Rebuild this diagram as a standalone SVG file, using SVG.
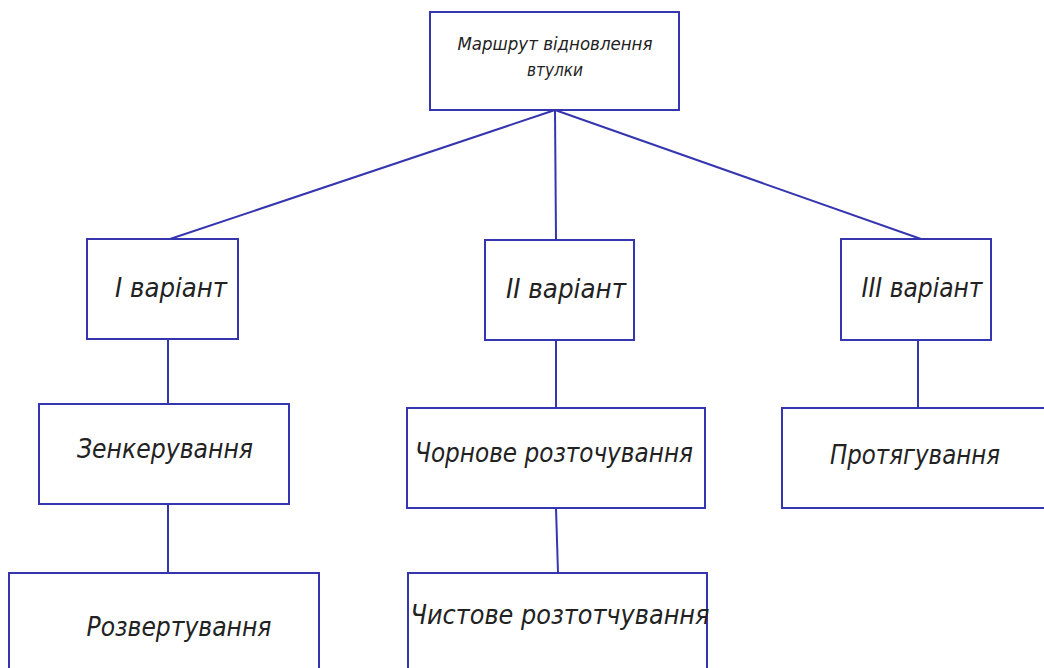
<svg xmlns="http://www.w3.org/2000/svg" width="1044" height="668" viewBox="0 0 1044 668">
<style>
.box{fill:#fff;stroke:#3535b0;stroke-width:2}
.ln{stroke:#3535b0;stroke-width:2;fill:none}
.t{font-family:"DejaVu Sans Condensed","Liberation Sans Narrow","Liberation Sans",sans-serif;font-style:italic;fill:#222;text-anchor:middle;font-size:26px}
.s{font-size:18px}
</style>
<rect width="1044" height="668" fill="#fff"/>
<g id="connectors">
<line class="ln" x1="555" y1="110" x2="170" y2="239"/>
<line class="ln" x1="555" y1="110" x2="556" y2="240"/>
<line class="ln" x1="555" y1="110" x2="921" y2="239"/>
<line class="ln" x1="168" y1="339" x2="168" y2="404"/>
<line class="ln" x1="168" y1="504" x2="168" y2="573"/>
<line class="ln" x1="556" y1="340" x2="556" y2="408"/>
<line class="ln" x1="556" y1="508" x2="558" y2="573"/>
<line class="ln" x1="918" y1="340" x2="918" y2="408"/>
</g>
<g id="root"><rect class="box" x="430" y="12" width="249" height="98"/>
<text class="t s" x="555" y="50" textLength="195" lengthAdjust="spacingAndGlyphs">Маршрут відновлення</text>
<text class="t s" x="555" y="76" textLength="56" lengthAdjust="spacingAndGlyphs">втулки</text></g>
<g id="v1"><rect class="box" x="87" y="239" width="151" height="100"/>
<text class="t" x="171" y="297" textLength="112" lengthAdjust="spacingAndGlyphs">I варіант</text></g>
<g id="v2"><rect class="box" x="485" y="240" width="149" height="100"/>
<text class="t" x="566" y="298" textLength="120" lengthAdjust="spacingAndGlyphs">II варіант</text></g>
<g id="v3"><rect class="box" x="841" y="239" width="150" height="101"/>
<text class="t" x="922" y="297" textLength="121" lengthAdjust="spacingAndGlyphs">III варіант</text></g>
<g id="zenk"><rect class="box" x="39" y="404" width="250" height="100"/>
<text class="t" x="165" y="458" textLength="176" lengthAdjust="spacingAndGlyphs">Зенкерування</text></g>
<g id="rozv"><rect class="box" x="9" y="573" width="310" height="110"/>
<text class="t" x="179" y="636" textLength="185" lengthAdjust="spacingAndGlyphs">Розвертування</text></g>
<g id="chorn"><rect class="box" x="407" y="408" width="298" height="100"/>
<text class="t" x="554" y="462" textLength="278" lengthAdjust="spacingAndGlyphs">Чорнове розточування</text></g>
<g id="chyst"><rect class="box" x="408" y="573" width="299" height="110"/>
<text class="t" x="560" y="624" textLength="299" lengthAdjust="spacingAndGlyphs">Чистове розтотчування</text></g>
<g id="prot"><rect class="box" x="782" y="408" width="270" height="100"/>
<text class="t" x="915" y="464" textLength="170" lengthAdjust="spacingAndGlyphs">Протягування</text></g>
</svg>
